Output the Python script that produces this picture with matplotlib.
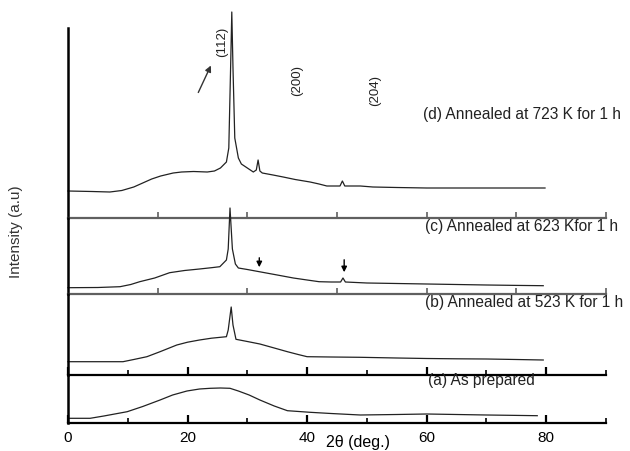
import matplotlib
matplotlib.use('Agg')
import matplotlib.pyplot as plt

plt.rcParams['font.family'] = ['Liberation Sans', 'DejaVu Sans']

# 2theta (deg) and intensity (a.u.), one set per pattern
tt_d = [0, 4, 7, 9, 11, 12.5, 14, 15.5, 17.6, 19, 21, 23.3, 24.5, 25.5, 26, 26.5, 26.9, 27.2, 27.4,
        27.6, 27.9, 28.5, 29, 30, 31, 31.5, 31.8, 32.1, 32.5, 34.3, 36, 38, 40.5, 42, 43.3, 45.5,
        45.9, 46.3, 48.9, 51, 55, 60, 65, 70, 75, 79.8]
int_d = [27, 26.5, 26, 27.5, 31, 35, 39, 42, 45, 46, 46.5, 46, 47, 50, 53, 56, 70, 150, 206,
         150, 80, 60, 54, 50, 46, 48, 58, 47, 45, 43, 41, 38.5, 36, 34, 32, 32,
         37, 32, 32, 31, 30.5, 30, 30, 30, 30, 30]

tt_c = [0, 5, 8.7, 10.5, 12, 14.5, 17, 19.5, 22, 24, 25.4, 26.5, 26.8, 27.1, 27.5, 28, 28.5, 30,
        32, 35, 37.7, 40, 42, 44, 45.6, 46, 46.4, 50, 55, 60, 65, 70, 75, 79.5]
int_c = [6.3, 6.5, 7.3, 9.5, 12.3, 16, 21.3, 23.5, 25, 26.3, 27.3, 34, 45, 86, 45, 30, 26, 24.5,
         22.3, 19, 16, 14, 12.3, 12, 12, 16, 12, 11, 10.5, 10, 9.5, 9, 8.6, 8.3]

tt_b = [0, 5, 9.2, 11, 13.2, 15.4, 18.2, 20, 22, 24, 26.5, 26.8, 27.3, 27.6, 28.1, 30, 32.1, 34.5,
        36.7, 38.5, 40, 44, 48.9, 55, 60, 65, 70, 75, 79.5]
int_b = [13.3, 13.3, 13.3, 15.5, 18.3, 23.3, 30, 32.8, 35, 36.8, 38.3, 45, 68, 50, 35.7, 33.5, 31,
         27, 23.3, 20.5, 18.3, 18, 17.7, 17, 16.5, 16.2, 16, 15.5, 15]

tt_a = [0, 3.7, 6, 9.9, 12.5, 15.4, 17.5, 19.9, 22, 23.8, 25.5, 27.1, 28.5, 30.3, 32.1, 34.5, 36.7,
        40.5, 44, 48.9, 55, 60, 65, 70, 75, 78.5]
int_a = [4.7, 4.7, 7, 11.3, 16.5, 23, 28, 32, 34, 34.7, 35, 34.7, 32, 28, 23, 17, 12.3,
         10.7, 9.5, 8, 8.5, 9, 8.5, 8, 7.6, 7.3]

labels = ['(d) Annealed at 723 K for 1 h', '(c) Annealed at 623 Kfor 1 h',
          '(b) Annealed at 523 K for 1 h', '(a) As prepared']
peak_labels = ['(112)', '(200)', '(204)']
peak_pos = [25.8, 38.3, 51.4]
peak_h = [176, 138, 128]

W, H = 630, 451
fig = plt.figure(figsize=(W / 100, H / 100), dpi=100)


def px_axes(top, bottom):
    return fig.add_axes([68 / W, 1 - bottom / H, (606 - 68) / W, (bottom - top) / H])


def px_text(x, y, s, **kw):
    fig.text(x / W, 1 - y / H, s, **kw)


# panel edges in pixels (top, bottom)
edges = [(10, 218), (218, 294), (294, 375), (375, 423)]
series = [(tt_d, int_d), (tt_c, int_c), (tt_b, int_b), (tt_a, int_a)]
axes = []
for i, ((top, bot), (x, y)) in enumerate(zip(edges, series)):
    ax = px_axes(top, bot)
    ax.set_xlim(0, 90)
    ax.set_ylim(0, bot - top)
    ax.patch.set_visible(False)
    ax.plot(x, y, color='#222222', lw=0.9, clip_on=False)
    for s in ['top', 'right']:
        ax.spines[s].set_visible(False)
    sep_col = '#606060' if i < 2 else 'black'
    ax.spines['bottom'].set_color(sep_col)
    ax.spines['bottom'].set_linewidth(1.6)
    ax.spines['left'].set_linewidth(1.8)
    ax.set_yticks([])
    if i < 2:
        ax.set_xticks([15, 30, 45, 60, 75, 90])
        ax.tick_params(axis='x', direction='in', length=4, width=1.2, color=sep_col, labelbottom=False)
    else:
        ax.set_xticks([0, 20, 40, 60, 80])
        ax.set_xticks([10, 30, 50, 70, 90], minor=True)
        ax.tick_params(axis='x', which='major', direction='in', length=6, width=1.6)
        ax.tick_params(axis='x', which='minor', direction='in', length=3.5, width=1.2)
        ax.tick_params(axis='x', labelbottom=(i == 3), labelsize=11, pad=6)
    axes.append(ax)

ax_d, ax_c, ax_b, ax_a = axes
ax_d.spines['left'].set_bounds(0, 218 - 28)

# peak labels and arrows
for lab, xp, hp in zip(peak_labels, peak_pos, peak_h):
    ax_d.text(xp, hp, lab, rotation=90, ha='center', va='center', fontsize=9.5, color='#222222')
ax_d.annotate('', xy=(24.1, 155), xytext=(21.6, 123),
              arrowprops=dict(arrowstyle='-|>', color='#333333', lw=1, mutation_scale=9))
for xa, y0, y1 in [(32, 39, 24), (46.2, 37, 19)]:
    ax_c.annotate('', xy=(xa, y1), xytext=(xa, y0),
                  arrowprops=dict(arrowstyle='-|>', color='black', lw=1, mutation_scale=8))

# sample labels
for (xl, yl), lab in zip([(423, 115), (425, 226), (425, 303), (428, 381)], labels):
    px_text(xl, yl, lab, ha='left', va='center', fontsize=11.2, color='#222222')

px_text(16, 232, 'Intensity (a.u)', rotation=90, ha='center', va='center', fontsize=11, color='#333333')
px_text(358, 442, '2θ (deg.)', ha='center', va='center', fontsize=11.5)

fig.savefig('out.png', dpi=100)
